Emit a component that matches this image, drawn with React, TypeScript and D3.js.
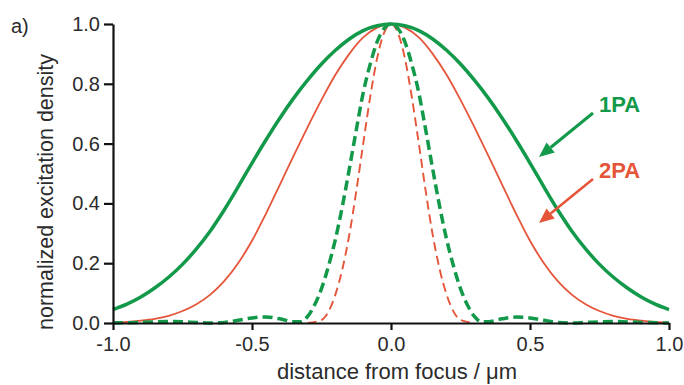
import React, { useEffect, useRef } from "react";
import * as d3 from "d3";

// x positions (um) and normalized densities
const xSolid = [-1, -0.95, -0.9, -0.85, -0.8, -0.75, -0.7, -0.65, -0.6, -0.55, -0.5, -0.45, -0.4, -0.35, -0.3, -0.25, -0.2, -0.15, -0.1, -0.05, 0,
  0.05, 0.1, 0.15, 0.2, 0.25, 0.3, 0.35, 0.4, 0.45, 0.5, 0.55, 0.6, 0.65, 0.7, 0.75, 0.8, 0.85, 0.9, 0.95, 1];
const green1PA = [0.045, 0.063, 0.087, 0.117, 0.153, 0.196, 0.248, 0.308, 0.378, 0.455, 0.535, 0.612, 0.685, 0.752, 0.812, 0.866, 0.912, 0.95, 0.978, 0.994, 1,
  0.994, 0.978, 0.95, 0.912, 0.866, 0.812, 0.752, 0.685, 0.612, 0.535, 0.455, 0.378, 0.308, 0.248, 0.196, 0.153, 0.117, 0.087, 0.063, 0.045];
const red2PA = [0.002, 0.004, 0.008, 0.014, 0.024, 0.04, 0.063, 0.095, 0.14, 0.2, 0.275, 0.365, 0.462, 0.56, 0.655, 0.746, 0.83, 0.9, 0.955, 0.988, 1,
  0.988, 0.955, 0.9, 0.83, 0.746, 0.655, 0.56, 0.462, 0.365, 0.275, 0.2, 0.14, 0.095, 0.063, 0.04, 0.024, 0.014, 0.008, 0.004, 0.002];

const xDashGreen = [-1, -0.9, -0.8, -0.7, -0.65, -0.6, -0.55, -0.5, -0.45, -0.4, -0.35, -0.325, -0.3, -0.275, -0.25, -0.225, -0.2, -0.175, -0.15, -0.125, -0.1, -0.075, -0.05, -0.025, 0,
  0.025, 0.05, 0.075, 0.1, 0.125, 0.15, 0.175, 0.2, 0.225, 0.25, 0.275, 0.3, 0.325, 0.35, 0.4, 0.45, 0.5, 0.55, 0.6, 0.65, 0.7, 0.8, 0.9, 1];
const greenDash = [0, 0.002, 0.005, 0.002, 0, 0.002, 0.009, 0.017, 0.02, 0.014, 0.004, 0.004, 0.022, 0.06, 0.115, 0.19, 0.28, 0.39, 0.515, 0.645, 0.77, 0.865, 0.94, 0.985, 1,
  0.985, 0.94, 0.865, 0.77, 0.645, 0.515, 0.39, 0.28, 0.19, 0.115, 0.06, 0.022, 0.004, 0.004, 0.014, 0.02, 0.017, 0.009, 0.002, 0, 0.002, 0.005, 0.002, 0];

const xDashRed = [-0.3, -0.25, -0.225, -0.2, -0.175, -0.15, -0.125, -0.1, -0.075, -0.05, -0.025, 0,
  0.025, 0.05, 0.075, 0.1, 0.125, 0.15, 0.175, 0.2, 0.225, 0.25, 0.3];
const redDash = [0, 0.01, 0.038, 0.095, 0.18, 0.295, 0.44, 0.6, 0.755, 0.885, 0.97, 1,
  0.97, 0.885, 0.755, 0.6, 0.44, 0.295, 0.18, 0.095, 0.038, 0.01, 0];

const xTicks = [-1, -0.5, 0, 0.5, 1];
const yTicks = [0, 0.2, 0.4, 0.6, 0.8, 1];

const GREEN = "#12994a";
const RED = "#e5553a";
const FONT = "'Liberation Sans', Arial, Helvetica, sans-serif";

const App = () => {
  const ref = useRef<SVGSVGElement>(null);

  useEffect(() => {
    const svg = d3.select(ref.current);
    svg.selectAll("*").remove();

    const x = d3.scaleLinear().domain([-1, 1]).range([113, 669]);
    const y = d3.scaleLinear().domain([0, 1]).range([323, 24]);

    const line = d3.line<[number, number]>()
      .x(d => x(d[0]))
      .y(d => y(d[1]))
      .curve(d3.curveMonotoneX);

    const pairs = (xs: number[], ys: number[]) => xs.map((v, i) => [v, ys[i]] as [number, number]);

    // curves
    svg.append("path").attr("d", line(pairs(xSolid, red2PA)))
      .attr("fill", "none").attr("stroke", RED).attr("stroke-width", 1.8);
    svg.append("path").attr("d", line(pairs(xDashRed, redDash)))
      .attr("fill", "none").attr("stroke", RED).attr("stroke-width", 1.9)
      .attr("stroke-dasharray", "9 5");
    svg.append("path").attr("d", line(pairs(xDashGreen, greenDash)))
      .attr("fill", "none").attr("stroke", GREEN).attr("stroke-width", 3.5)
      .attr("stroke-dasharray", "10 5");
    svg.append("path").attr("d", line(pairs(xSolid, green1PA)))
      .attr("fill", "none").attr("stroke", GREEN).attr("stroke-width", 3.5);

    // axes
    const xAxis = svg.append("g").attr("transform", "translate(0,323)")
      .call(d3.axisBottom(x).tickValues(xTicks).tickSize(7).tickSizeOuter(0).tickPadding(6)
        .tickFormat(d3.format(".1f")));
    const yAxis = svg.append("g").attr("transform", "translate(113,0)")
      .call(d3.axisLeft(y).tickValues(yTicks).tickSize(9).tickSizeOuter(0).tickPadding(4)
        .tickFormat(d3.format(".1f")));
    [xAxis, yAxis].forEach(g => {
      g.select(".domain").attr("stroke", "#111").attr("stroke-width", 2.2);
      g.selectAll(".tick line").attr("stroke", "#111").attr("stroke-width", 2.2);
      g.selectAll(".tick text").attr("fill", "#2b2b2b").style("font-family", FONT).style("font-size", "20px");
    });
    xAxis.selectAll(".tick text").attr("dy", "0.75em");
    // minus sign as plain hyphen like the original
    xAxis.selectAll(".tick text").text((d: any) => d3.format(".1f")(d).replace("\u2212", "-"));

    // titles
    svg.append("text").attr("x", 397).attr("y", 379).attr("text-anchor", "middle")
      .attr("fill", "#2b2b2b").style("font-family", FONT).style("font-size", "22px")
      .text("distance from focus / \u03bcm");
    svg.append("text").attr("transform", "translate(53,192) rotate(-90)").attr("text-anchor", "middle")
      .attr("fill", "#2b2b2b").style("font-family", FONT).style("font-size", "21.5px")
      .text("normalized excitation density");
    svg.append("text").attr("x", 11).attr("y", 33)
      .attr("fill", "#2b2b2b").style("font-family", FONT).style("font-size", "20px")
      .text("a)");

    // arrows with labels
    const arrow = (x1: number, y1: number, x2: number, y2: number, color: string, w: number) => {
      const ang = Math.atan2(y2 - y1, x2 - x1);
      const len = 15, half = 6.5;
      const bx = x2 - len * Math.cos(ang), by = y2 - len * Math.sin(ang);
      svg.append("line").attr("x1", x1).attr("y1", y1).attr("x2", bx).attr("y2", by)
        .attr("stroke", color).attr("stroke-width", w);
      const px = -Math.sin(ang) * half, py = Math.cos(ang) * half;
      svg.append("path")
        .attr("d", `M${x2},${y2}L${bx + px},${by + py}L${bx - px},${by - py}Z`)
        .attr("fill", color);
    };
    arrow(593, 113, 539, 157, GREEN, 3);
    arrow(593, 179, 539, 223, RED, 2.5);

    svg.append("text").attr("x", 599).attr("y", 112).attr("fill", GREEN)
      .style("font-family", FONT).style("font-size", "22px").style("font-weight", "bold").text("1PA");
    svg.append("text").attr("x", 599).attr("y", 178).attr("fill", RED)
      .style("font-family", FONT).style("font-size", "22px").style("font-weight", "bold").text("2PA");
  }, []);

  return (
    <svg ref={ref} width={684} height={385}
      style={{ position: "absolute", left: 0, top: 0, background: "#fff" }} />
  );
};

export default App;
